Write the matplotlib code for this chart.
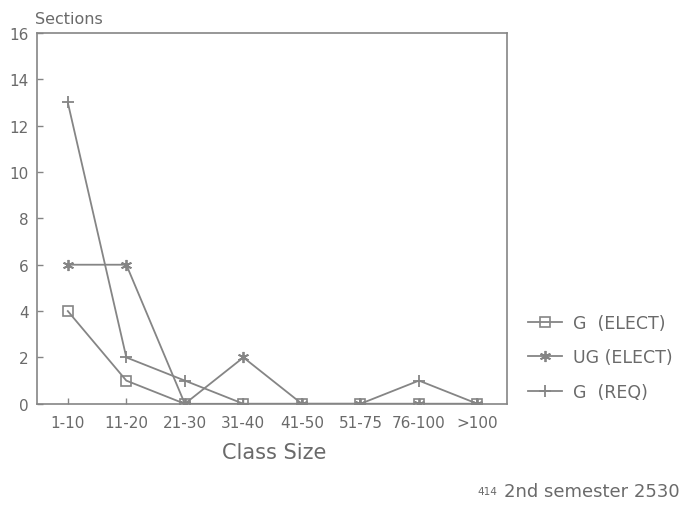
import matplotlib
matplotlib.use("Agg")
import matplotlib.pyplot as plt
import numpy as np

# Class-size categories and section counts
class_sizes = ["1-10", "11-20", "21-30", "31-40", "41-50", "51-75", "76-100", ">100"]
g_elect = [4, 1, 0, 0, 0, 0, 0, 0]
ug_elect = [6, 6, 0, 2, 0, 0, 0, 0]
g_req = [13, 2, 1, 0, 0, 0, 1, 0]
y_ticks = [0, 2, 4, 6, 8, 10, 12, 14, 16]

ink = "#858585"
txt = "#6a6a6a"
plt.rcParams["font.family"] = ["DejaVu Sans"]

fig = plt.figure(figsize=(6.94, 5.06), dpi=100)
ax = fig.add_axes([0.053, 0.200, 0.678, 0.733])

x = np.arange(len(class_sizes))
ax.plot(x, g_elect, color=ink, lw=1.3, marker="s", ms=6.5, mfc="none", mec=ink,
        mew=1.2, label="G  (ELECT)")
ax.plot(x, ug_elect, color=ink, lw=1.3, marker=(6, 2, 0), ms=8, mec=ink,
        mew=1.3, label="UG (ELECT)")
ax.plot(x, g_req, color=ink, lw=1.3, marker="+", ms=9, mec=ink,
        mew=1.3, label="G  (REQ)")

ax.set_xlim(-0.53, 7.51)
ax.set_ylim(0, 16)
ax.set_xticks(x)
ax.set_xticklabels(class_sizes, fontsize=11, color=txt)
ax.set_yticks(y_ticks)
ax.set_yticklabels([str(v) for v in y_ticks], fontsize=11, color=txt)
ax.tick_params(direction="in", length=4, color=ink, width=1)
ax.tick_params(axis="x", pad=8)
ax.tick_params(axis="y", pad=6)
for s in ax.spines.values():
    s.set_color(ink)
    s.set_linewidth(1.2)

fig.text(274 / 694, 1 - 453 / 506, "Class Size", fontsize=15, color=txt,
         ha="center", va="center")
fig.text(35 / 694, 1 - 20 / 506, "Sections", fontsize=11.5, color=txt,
         va="center")

leg = ax.legend(loc="center left", bbox_to_anchor=(1.01, 0.125), frameon=False,
                fontsize=12.5, handlelength=2.0, labelspacing=0.95,
                handletextpad=0.6)
for t in leg.get_texts():
    t.set_color(txt)

fig.text(497 / 694, 1 - 492 / 506, "414", fontsize=7.5, color=txt,
         ha="right", va="center")
fig.text(504 / 694, 1 - 492 / 506, "2nd semester 2530", fontsize=13,
         color=txt, va="center")

fig.savefig("out.png", dpi=100, facecolor="white")
